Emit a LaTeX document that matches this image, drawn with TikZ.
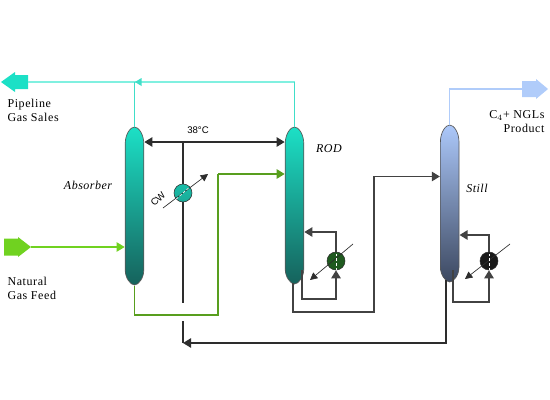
\documentclass[tikz,border=0pt]{standalone}
\usepackage{fontspec}
\setmainfont{Liberation Serif}
\setsansfont{Liberation Sans}
\usetikzlibrary{arrows.meta}
\definecolor{tealtop}{RGB}{28,224,198}
\definecolor{tealmid}{RGB}{26,170,152}
\definecolor{tealbot}{RGB}{22,98,92}
\definecolor{bluetop}{RGB}{172,200,250}
\definecolor{bluemid}{RGB}{112,140,190}
\definecolor{bluebot}{RGB}{60,72,96}
\definecolor{pipecyan}{RGB}{128,240,224}
\definecolor{thincyan}{RGB}{64,222,200}
\definecolor{feedgreen}{RGB}{112,210,32}
\definecolor{bottomgreen}{RGB}{88,158,30}
\definecolor{prodblue}{RGB}{176,204,250}
\definecolor{darkline}{RGB}{45,45,45}
\definecolor{rebgreen}{RGB}{31,90,31}
\tikzset{every picture/.style={line width=0.75pt}}
\tikzset{
  tealcol/.style={top color=tealtop,middle color=tealmid,bottom color=tealbot},
  bluecol/.style={top color=bluetop,middle color=bluemid,bottom color=bluebot},
  colbox/.style={inner sep=0pt,minimum width=14pt},
  exchanger/.style={circle,draw=darkline,line width=0.4pt,inner sep=0pt,minimum size=13.5pt},
  blackline/.style={draw=darkline,line width=1.1pt},
  loopline/.style={draw=darkline!90,line width=1.15pt},
  tipped/.style={-{Triangle[length=6pt,width=7pt]}},
  stream/.style={font=\fontsize{9}{10.6}\selectfont\addfontfeature{LetterSpace=5},inner sep=0pt,align=left},
  tag/.style={font=\fontsize{9}{10}\selectfont\itshape\addfontfeature{LetterSpace=4},inner sep=0pt},
  sanstag/.style={font=\fontsize{7.2}{8}\selectfont\sffamily,inner sep=0pt}
}
\newcommand{\drawcolumn}[5]{%
  \shade[#5,draw=darkline!80,line width=0.5pt] ({#2-9.3},{#3+17}) .. controls ({#2-9.3},{#3+7}) and ({#2-4},{#3}) .. ({#2},{#3})
    .. controls ({#2+4},{#3}) and ({#2+9.3},{#3+7}) .. ({#2+9.3},{#3+17})
    -- ({#2+9.3},{#4-15}) .. controls ({#2+9.3},{#4-7}) and ({#2+4},{#4}) .. ({#2},{#4})
    .. controls ({#2-4},{#4}) and ({#2-9.3},{#4-7}) .. ({#2-9.3},{#4-15}) -- cycle;
  \node[colbox,minimum height={(#4-#3)*0.75pt}] (#1) at ({#2},{(#3+#4)/2}) {};
}
\begin{document}
\begin{tikzpicture}[x=0.75pt,y=0.75pt,yscale=-1,xscale=1]
\useasboundingbox (0,0) rectangle (550,400);

%Columns
\drawcolumn{absorber}{134.5}{127}{285}{tealcol}
\drawcolumn{rod}{294.5}{127}{284}{tealcol}
\drawcolumn{still}{449.7}{125}{282}{bluecol}

%Block arrows
\fill[tealtop] (1,82) -- (15,72) -- (15,75) -- (28,75) -- (28,89) -- (15,89) -- (15,92) -- cycle;
\fill[feedgreen] (4,238.5) -- (18,238.5) -- (18,237) -- (31,247) -- (18,257) -- (18,255.5) -- (4,255.5) -- cycle;
\fill[prodblue] (522,81) -- (536,81) -- (536,79) -- (548,89) -- (536,99) -- (536,97) -- (522,97) -- cycle;

%Free ends
\coordinate (pipeline) at (28,82);
\coordinate (feed) at (31,247);
\coordinate (product) at (522,89);
\coordinate (cwtop) at (183,142);
\coordinate (cwbot) at (183,303);
\coordinate (bottomstub) at (183,321);
\coordinate (bottomelbow) at (183,343);
\coordinate (cwin) at (163,208);
\coordinate (cwout) at (208,174);
\coordinate (rodin) at (310,280);
\coordinate (rodout) at (353,244);
\coordinate (stillin) at (510,244);
\coordinate (stillout) at (465,279);
\coordinate (rodtail) at (302,270);
\coordinate (stilltail) at (453,270);
\coordinate (stillbot) at (446,280);
\coordinate (rodbot) at (293,283);

%Overhead lines
\draw[pipecyan,line width=1.5pt] (rod.north |- pipeline) -- (pipeline);
\draw[thincyan,line width=0.8pt] (rod.north) -- (rod.north |- pipeline);
\draw[thincyan,line width=0.8pt] (absorber.north) -- (absorber.north |- pipeline);
\fill[thincyan] (135,82) -- (141.5,78) -- (141.5,86) -- cycle;
\draw[prodblue,line width=1pt] (still.north) |- (product);

%Feed
\draw[feedgreen,line width=0.9pt,tipped] (feed) -- (absorber.west |- feed);

%Exchangers
\node[exchanger,top color=tealtop!85!black,bottom color=tealmid] (cwhx) at (183,193) {};
\node[exchanger,fill=rebgreen] (rodreb) at (336,261) {};
\node[exchanger,fill=black!90] (stillreb) at (489,261) {};

%Main lines
\draw[blackline,tipped] (cwtop) -- (absorber.east |- cwtop) ;
\draw[blackline,tipped] (cwtop) -- (rod.west |- cwtop);
\draw[blackline] (cwtop) -- (cwhx.north);
\draw[blackline] (cwhx.south) -- (cwbot);
\draw[bottomgreen,line width=1.3pt] (absorber.south) -- (134.5,315) -- (218,315) -- (218,174);
\draw[bottomgreen,line width=1.3pt,tipped] (218,174) -- (rod.west |- 0,174);
\draw[loopline,tipped] (rodbot) -- (293,312) -- (374,312) -- (374,176.5) -- (still.west |- 0,176.5);
\draw[blackline,tipped] (stillbot) -- (446,343) -- (bottomelbow);
\draw[blackline] (bottomstub) -- (bottomelbow);

%Reboiler loops
\draw[loopline,tipped] (rodtail) -- (302,299) -- (336,299) -- (rodreb.south);
\draw[loopline,tipped] (rodreb.north) -- (336,232) -- (rod.east |- 0,232);
\draw[loopline,tipped] (stilltail) -- (453,302) -- (489,302) -- (stillreb.south);
\draw[loopline,tipped] (stillreb.north) -- (489,235) -- (still.east |- 0,235);

%Diagonals
\draw[darkline,line width=0.5pt,-{Triangle[length=5.5pt,width=5.5pt]}] (cwin) -- (cwout);
\draw[darkline,line width=0.5pt,-{Triangle[length=5.5pt,width=5.5pt]}] (rodout) -- (rodin);
\draw[darkline,line width=0.5pt,-{Triangle[length=5.5pt,width=5.5pt]}] (stillin) -- (stillout);
\draw[white,line width=0.5pt,dash pattern=on 2pt off 1.5pt] (cwhx.222) -- (cwhx.42);
\draw[white,line width=0.7pt,dash pattern=on 2pt off 1.5pt] (rodreb.south) -- (rodreb.north);
\draw[white,line width=0.7pt,dash pattern=on 2pt off 1.5pt] (stillreb.south) -- (stillreb.north);

%Labels
\node[stream,anchor=west] (pipelabel) at (7,110) {Pipeline\\Gas Sales};
\node[stream,anchor=west] (feedlabel) at (7,288) {Natural\\Gas Feed};
\node[stream,anchor=east,align=right] (prodlabel) at (545,122) {C$_{4}$+ NGLs\\Product};
\node[tag] (abstag) at (88,185) {Absorber};
\node[tag] (rodtag) at (329,149) {ROD};
\node[tag] (stilltag) at (477,188) {Still};
\node[sanstag] (temptag) at (198,130) {38°C};
\node[sanstag,rotate=45] (cwtag) at (158,199) {CW};

\end{tikzpicture}
\end{document}
